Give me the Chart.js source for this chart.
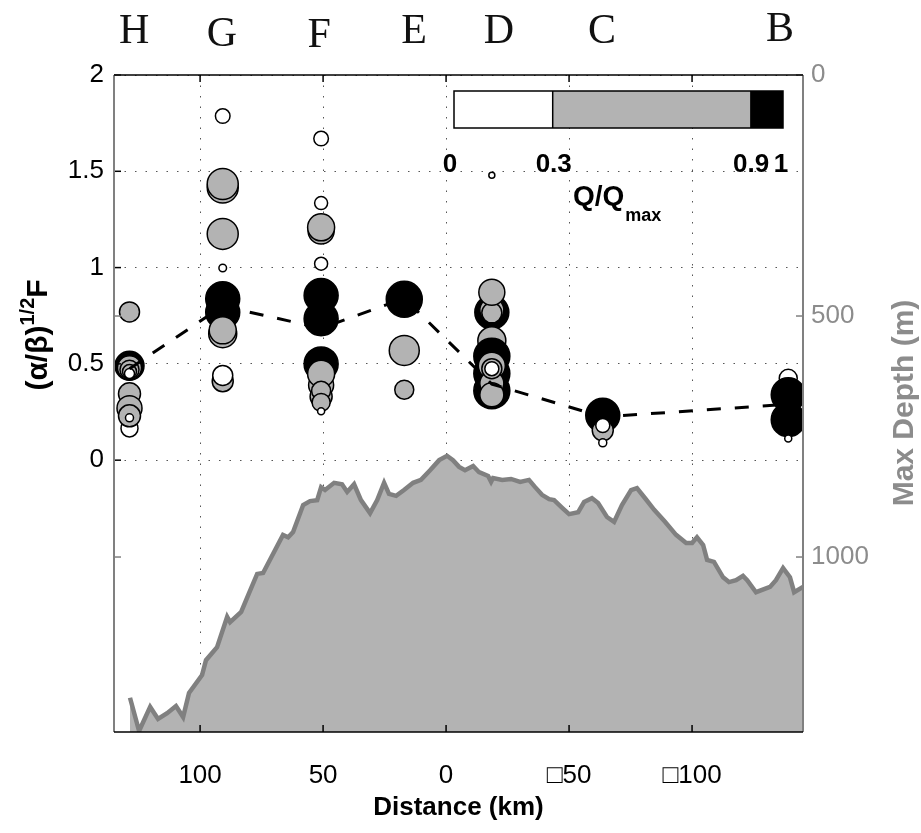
<!DOCTYPE html>
<html>
<head>
<meta charset="utf-8">
<script src="https://cdn.jsdelivr.net/npm/chart.js@4.4.0/dist/chart.umd.min.js"></script>
<style>
  html, body { margin: 0; padding: 0; background: #fff; }
  canvas { display: block; }
</style>
</head>
<body>
<canvas id="chart-section" width="921" height="833"></canvas>
<script>
// Stations along the section
const stationNames = ['H', 'G', 'F', 'E', 'D', 'C', 'B'];
const stationKm = [128.7, 90.8, 50.8, 17.0, -18.6, -63.7, -139.1];
const stationLabelKm = [126.8, 91.1, 51.6, 13.0, -21.5, -63.4, -135.8];
// station median of (alpha/beta)^1/2 F  (dashed line)
const stationMedian = [0.475, 0.80, 0.685, 0.84, 0.395, 0.225, 0.29];

// individual estimates, listed in drawing order
const eventStation = [
    0, 0, 0, 0, 0, 0, 0, 0, 0, 0, 0,
    1, 1, 1, 1, 1, 1, 1, 1, 1, 1, 1,
    2, 2, 2, 2, 2, 2, 2, 2, 2, 2, 2, 2, 2, 2,
    3, 3, 3,
    4, 4, 4, 4, 4, 4, 4, 4, 4, 4, 4, 4, 4, 4,
    5, 5, 5, 5,
    6, 6, 6, 6,
];
const eventValue = [
    0.165, 0.77, 0.49, 0.48, 0.47, 0.46, 0.45, 0.345, 0.27, 0.23, 0.22,
    1.787, 1.416, 1.434, 1.175, 0.998, 0.41, 0.44, 0.768, 0.838, 0.657, 0.674,
    1.67, 1.335, 1.19, 1.209, 1.02, 0.855, 0.734, 0.50, 0.39, 0.33, 0.449, 0.36, 0.30, 0.254,
    0.835, 0.57, 0.366,
    1.48, 0.768, 0.78, 0.765, 0.872, 0.62, 0.54, 0.45, 0.36, 0.49, 0.40, 0.34, 0.475, 0.475,
    0.233, 0.155, 0.18, 0.09,
    0.425, 0.34, 0.21, 0.112,
];
const eventSize = [
    8.5, 10, 14.5, 12, 9.5, 7, 5, 11, 12.5, 11, 4,
    7.3, 15.5, 15.5, 15.5, 3.8, 10.5, 10, 17, 17, 14, 13.5,
    7.3, 6.5, 13, 13.5, 6.5, 17, 17, 17, 12.5, 11, 13.5, 9.5, 9, 3.5,
    18, 15, 9.5,
    3, 17, 12, 10, 13, 14, 18, 18, 18, 13.5, 12, 12, 10, 7,
    17, 10.5, 7, 4,
    9, 17, 17, 3.5,
];
const eventQ = [
    0.1, 0.6, 0.95, 0.6, 0.6, 0.6, 0.1, 0.6, 0.6, 0.6, 0.1,
    0.1, 0.6, 0.6, 0.6, 0.1, 0.6, 0.1, 0.95, 0.95, 0.6, 0.6,
    0.1, 0.1, 0.6, 0.6, 0.1, 0.95, 0.95, 0.95, 0.6, 0.6, 0.6, 0.6, 0.6, 0.1,
    0.95, 0.6, 0.6,
    0.1, 0.95, 0.6, 0.6, 0.6, 0.6, 0.95, 0.95, 0.95, 0.6, 0.6, 0.6, 0.6, 0.1,
    0.95, 0.6, 0.1, 0.1,
    0.1, 0.95, 0.95, 0.1,
];

// bathymetry along the section
const bathyKm = [
    128.5, 124.8, 120.3, 117.1, 113.4, 109.8, 106.9, 104.5, 99.2, 97.6,
    93.1, 89.0, 87.8, 83.3, 80.1, 76.8, 74.4, 66.3, 64.2, 62.2,
    58.1, 55.3, 52.4, 50.8, 49.2, 45.5, 42.3, 40.2, 37.4, 34.6,
    30.9, 28.0, 25.2, 23.2, 20.3, 17.1, 13.4, 10.2, 6.5, 2.8,
    -0.4, -2.8, -5.3, -7.7, -11.0, -13.4, -17.1, -18.3, -19.1, -22.8,
    -26.4, -30.1, -33.7, -36.2, -39.0, -41.9, -43.9, -47.2, -50.0, -53.7,
    -56.1, -59.3, -61.8, -65.4, -68.3, -71.5, -75.2, -77.6, -80.9, -84.6,
    -89.0, -93.5, -97.6, -100.0, -102.0, -104.5, -106.1, -108.9, -112.6, -115.0,
    -117.9, -120.7, -122.4, -126.0, -131.7, -134.1, -137.0, -139.8, -141.5, -145.1,
];
const bathyDepth = [
    1292, 1361, 1311, 1336, 1324, 1309, 1332, 1282, 1245, 1214,
    1187, 1124, 1135, 1114, 1075, 1035, 1033, 954, 959, 948,
    892, 884, 882, 855, 861, 846, 849, 865, 849, 882,
    909, 882, 846, 869, 873, 861, 846, 840, 820, 799,
    790, 799, 813, 820, 811, 824, 832, 844, 836, 840,
    838, 844, 840, 855, 871, 880, 882, 898, 911, 907,
    886, 878, 888, 917, 927, 892, 861, 857, 878, 902,
    927, 954, 971, 971, 959, 975, 1006, 1010, 1042, 1052,
    1048, 1039, 1048, 1073, 1062, 1048, 1023, 1042, 1073, 1062,
];

const xTicks = [100, 50, 0, -50, -100];
const yTicks = [0, 0.5, 1, 1.5, 2];
const depthTicks = [0, 500, 1000];
const qBreaks = [0, 0.3, 0.9, 1];
const qLabels = ['0', '0.3', '0.9', '1'];

const X_MIN = -145.1, X_MAX = 135.0;
const Y_MIN = -1.4115, Y_MAX = 2;
const DEPTH_MAX = 1363;

const GREY = '#b3b3b3';
const qColors = ['#ffffff', GREY, '#000000'];
const SANS = '"Liberation Sans", Arial, sans-serif';

function qColor(q) {
    if (q < qBreaks[1]) return qColors[0];
    if (q < qBreaks[2]) return qColors[1];
    return qColors[2];
}

function lockBox(size) {
    return scale => {
        if (scale.isHorizontal()) scale.height = size;
        else scale.width = size;
        scale.paddingTop = 0;
        scale.paddingBottom = 0;
        scale.paddingLeft = 0;
        scale.paddingRight = 0;
    };
}

const overlay = {
    id: 'overlay',
    afterDraw(chart) {
        const { ctx, chartArea: a, scales } = chart;
        const seg = (x1, y1, x2, y2) => { ctx.beginPath(); ctx.moveTo(x1, y1); ctx.lineTo(x2, y2); ctx.stroke(); };
        ctx.save();

        // inward ticks
        ctx.lineWidth = 1.5;
        ctx.strokeStyle = '#000';
        xTicks.forEach(v => {
            const px = scales.x.getPixelForValue(v);
            seg(px, a.top, px, a.top + 7);
            seg(px, a.bottom, px, a.bottom - 7);
        });
        yTicks.forEach(v => {
            const py = scales.y.getPixelForValue(v);
            seg(a.left, py, a.left + 7, py);
        });
        ctx.strokeStyle = '#808080';
        depthTicks.forEach(v => {
            const py = scales.y2.getPixelForValue(v);
            seg(a.left, py, a.left + 7, py);
            seg(a.right, py, a.right - 7, py);
        });

        // frame
        ctx.lineWidth = 2;
        ctx.strokeStyle = '#808080';
        seg(a.left, a.top, a.left, a.bottom);
        seg(a.right, a.top, a.right, a.bottom);
        ctx.strokeStyle = '#000';
        ctx.lineWidth = 1.5;
        seg(a.left, a.top, a.right, a.top);
        seg(a.left, a.bottom, a.right, a.bottom);

        // station letters
        const lift = [43, 46, 47, 43, 43, 43, 41];
        ctx.fillStyle = '#111';
        ctx.font = '42px "Liberation Serif", "Times New Roman", serif';
        ctx.textAlign = 'center';
        ctx.textBaseline = 'alphabetic';
        stationNames.forEach((s, i) => {
            ctx.fillText(s, scales.x.getPixelForValue(stationLabelKm[i]), lift[i]);
        });

        // colour bar for Q/Qmax
        const cb = { left: 454, right: 783, top: 91, bottom: 128 };
        const qx = q => cb.left + q * (cb.right - cb.left);
        for (let i = 0; i < qColors.length; i++) {
            ctx.fillStyle = qColors[i];
            ctx.fillRect(qx(qBreaks[i]), cb.top, qx(qBreaks[i + 1]) - qx(qBreaks[i]), cb.bottom - cb.top);
        }
        ctx.strokeStyle = '#000';
        ctx.lineWidth = 1.5;
        ctx.strokeRect(cb.left, cb.top, cb.right - cb.left, cb.bottom - cb.top);
        seg(qx(qBreaks[1]), cb.top, qx(qBreaks[1]), cb.bottom);
        ctx.fillStyle = '#000';
        ctx.font = 'bold 26px ' + SANS;
        ctx.textAlign = 'center';
        qBreaks.forEach((q, i) => {
            const dx = i === 0 ? -4 : (i === qBreaks.length - 1 ? -2 : 1);
            ctx.fillText(qLabels[i], qx(q) + dx, 172);
        });
        ctx.textAlign = 'left';
        ctx.font = 'bold 28px ' + SANS;
        ctx.fillText('Q/Q', 573, 205);
        const wq = ctx.measureText('Q/Q').width;
        ctx.font = 'bold 18px ' + SANS;
        ctx.fillText('max', 573 + wq + 1, 221);

        // axis titles
        ctx.fillStyle = '#000';
        ctx.font = 'bold 26px ' + SANS;
        ctx.textAlign = 'center';
        ctx.textBaseline = 'middle';
        ctx.fillText('Distance (km)', (a.left + a.right) / 2, 808);

        ctx.save();
        ctx.translate(47, 335);
        ctx.rotate(-Math.PI / 2);
        ctx.textAlign = 'left';
        ctx.textBaseline = 'alphabetic';
        ctx.font = 'bold 30px ' + SANS;
        const w1 = ctx.measureText('(\u03b1/\u03b2)').width;
        const w3 = ctx.measureText('F').width;
        ctx.font = 'bold 20px ' + SANS;
        const w2 = ctx.measureText('1/2').width;
        const x0 = -(w1 + w2 + w3) / 2;
        ctx.font = 'bold 30px ' + SANS;
        ctx.fillText('(\u03b1/\u03b2)', x0, 0);
        ctx.font = 'bold 20px ' + SANS;
        ctx.fillText('1/2', x0 + w1, -13);
        ctx.font = 'bold 30px ' + SANS;
        ctx.fillText('F', x0 + w1 + w2, 0);
        ctx.restore();

        ctx.save();
        ctx.translate(905, 403);
        ctx.rotate(-Math.PI / 2);
        ctx.fillStyle = '#8c8c8c';
        ctx.font = 'bold 30px ' + SANS;
        ctx.textAlign = 'center';
        ctx.textBaseline = 'middle';
        ctx.fillText('Max Depth (m)', 0, 0);
        ctx.restore();

        ctx.restore();
    },
};

const canvas = document.getElementById('chart-section');
const ctx = canvas.getContext('2d');

new Chart(ctx, {
    data: {
        datasets: [
            {
                type: 'line',
                label: 'Station median',
                data: stationKm.map((x, i) => ({ x, y: stationMedian[i] })),
                yAxisID: 'y',
                borderColor: '#000',
                borderWidth: 3,
                borderDash: [14, 14],
                pointRadius: 0,
                fill: false,
                tension: 0,
                order: 0,
            },
            {
                type: 'bubble',
                label: 'Estimates',
                data: eventValue.map((y, i) => ({ x: stationKm[eventStation[i]], y, r: eventSize[i] })),
                yAxisID: 'y',
                backgroundColor: eventQ.map(qColor),
                borderColor: '#000',
                borderWidth: 1.5,
                clip: 0,
                order: 1,
            },
            {
                type: 'line',
                label: 'Max depth',
                data: bathyKm.map((x, i) => ({ x, y: bathyDepth[i] })),
                yAxisID: 'y2',
                borderColor: '#808080',
                borderWidth: 4.5,
                backgroundColor: GREY,
                fill: { value: DEPTH_MAX },
                pointRadius: 0,
                tension: 0,
                order: 2,
            },
        ],
    },
    options: {
        responsive: false,
        animation: false,
        events: [],
        devicePixelRatio: 1,
        layout: { padding: { top: 75, left: 0, right: 0, bottom: 0 } },
        scales: {
            x: {
                type: 'linear',
                reverse: true,
                min: X_MIN,
                max: X_MAX,
                afterBuildTicks: s => { s.ticks = xTicks.map(v => ({ value: v })); },
                afterFit: lockBox(101),
                grid: { color: '#555', lineWidth: 1, drawTicks: false },
                border: { display: false, dash: [1.5, 9] },
                ticks: {
                    color: '#000',
                    font: { family: SANS, size: 26 },
                    padding: 28,
                    maxRotation: 0,
                    autoSkip: false,
                    callback: v => (v < 0 ? '\u25a1' + (-v) : String(v)),
                },
            },
            y: {
                type: 'linear',
                position: 'left',
                min: Y_MIN,
                max: Y_MAX,
                afterBuildTicks: s => { s.ticks = yTicks.map(v => ({ value: v })); },
                afterFit: lockBox(114),
                grid: { color: '#555', lineWidth: 1, drawTicks: false },
                border: { display: false, dash: [1.5, 9] },
                ticks: {
                    color: '#000',
                    font: { family: SANS, size: 26 },
                    padding: 10,
                    autoSkip: false,
                    callback: v => String(v),
                },
            },
            y2: {
                type: 'linear',
                position: 'right',
                reverse: true,
                min: 0,
                max: DEPTH_MAX,
                afterBuildTicks: s => { s.ticks = depthTicks.map(v => ({ value: v })); },
                afterFit: lockBox(118),
                grid: { display: false, drawTicks: false },
                border: { display: false },
                ticks: {
                    color: '#8c8c8c',
                    font: { family: SANS, size: 26 },
                    padding: 8,
                    autoSkip: false,
                    callback: v => String(v),
                },
            },
        },
        plugins: {
            legend: { display: false },
            tooltip: { enabled: false },
            title: { display: false },
        },
    },
    plugins: [overlay],
});
</script>
</body>
</html>
